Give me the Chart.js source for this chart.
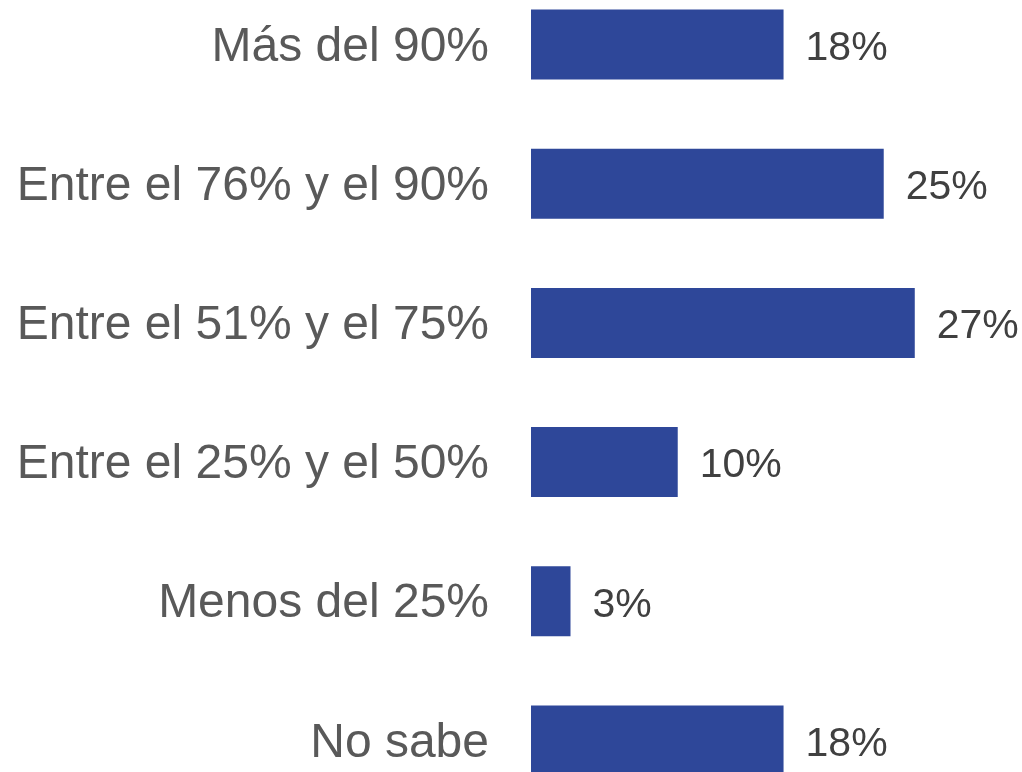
<!DOCTYPE html>
<html lang="es">
  <head>
    <meta charset="utf-8" />
    <title>Porcentaje</title>
    <style>
      * {
        margin: 0;
        padding: 0;
      }
      html,
      body {
        width: 1022px;
        height: 772px;
        overflow: hidden;
        background: #ffffff;
      }
      .chartBox {
        position: absolute;
        left: 0;
        top: -25px;
        width: 1022px;
        height: 835px;
      }
    </style>
  </head>
  <body>
    <div class="chartBox">
      <canvas id="myChart"></canvas>
    </div>

    <script src="https://cdn.jsdelivr.net/npm/chart.js@4.1.1/dist/chart.umd.min.js"></script>

    <script>
      const categories = [
        "Más del 90%",
        "Entre el 76% y el 90%",
        "Entre el 51% y el 75%",
        "Entre el 25% y el 50%",
        "Menos del 25%",
        "No sabe",
      ];
      const values = [17.9, 25.0, 27.2, 10.4, 2.8, 17.9];
      const valueLabels = ["18%", "25%", "27%", "10%", "3%", "18%"];

      const FONT = "'Liberation Sans', Arial, sans-serif";

      // draws the percentage to the right of each bar
      const barValues = {
        id: "barValues",
        afterDatasetsDraw(chart) {
          const { ctx } = chart;
          const meta = chart.getDatasetMeta(0);
          ctx.save();
          ctx.font = "41px " + FONT;
          ctx.fillStyle = "#404040";
          ctx.textAlign = "left";
          ctx.textBaseline = "middle";
          meta.data.forEach((bar, i) => {
            ctx.fillText(valueLabels[i], bar.x + 22, bar.y + 4);
          });
          ctx.restore();
        },
      };

      const config = {
        type: "bar",
        data: {
          labels: categories,
          datasets: [
            {
              data: values,
              backgroundColor: "#2E4799",
              borderWidth: 0,
              barPercentage: 1,
              categoryPercentage: 0.503,
            },
          ],
        },
        options: {
          indexAxis: "y",
          responsive: true,
          maintainAspectRatio: false,
          animation: false,
          layout: { padding: 0 },
          plugins: {
            legend: { display: false },
            tooltip: { enabled: false },
          },
          scales: {
            x: {
              display: false,
              min: 0,
              max: 34.8,
            },
            y: {
              afterFit(scale) {
                scale.width = 531;
                // tick padding would otherwise push the plot area down
                scale.paddingTop = 0;
                scale.paddingBottom = 0;
              },
              grid: { display: false, drawTicks: false },
              border: { display: false },
              ticks: {
                color: "#595959",
                padding: 42,
                labelOffset: 3,
                font: { family: FONT, size: 48 },
              },
            },
          },
        },
        plugins: [barValues],
      };

      const myChart = new Chart(document.getElementById("myChart"), config);
    </script>
  </body>
</html>
